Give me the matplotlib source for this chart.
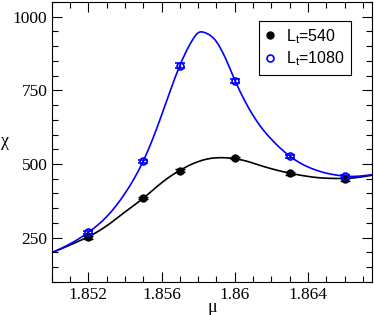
import numpy as np
import matplotlib.pyplot as plt
from matplotlib.path import Path
from matplotlib.patches import PathPatch
from matplotlib.lines import Line2D
from matplotlib.ticker import MultipleLocator

# measured points
mu_pts = [1.852, 1.855, 1.857, 1.860, 1.863, 1.866]
chi_540 = [251, 384, 478, 520, 468, 449]
err_540 = [4, 4, 4, 4, 4, 5]
chi_1080 = [269, 509, 834, 782, 526, 458]
err_1080 = [5, 6, 7, 7, 6, 6]

# fitted curves
mu_curve = [1.8500, 1.8505, 1.8510, 1.8515, 1.8520, 1.8525, 1.8530, 1.8535,
            1.8540, 1.8545, 1.8550, 1.8555, 1.8560, 1.8565, 1.8570, 1.8575,
            1.8580, 1.8585, 1.8590, 1.8595, 1.8600, 1.8605, 1.8610, 1.8615,
            1.8620, 1.8625, 1.8630, 1.8635, 1.8640, 1.8645, 1.8650, 1.8655,
            1.8660, 1.8665, 1.8670, 1.8675]
curve_540 = [199, 212, 225, 239, 253, 270, 290, 313,
             337, 360, 384, 410, 436, 459, 478, 495,
             508, 517, 521, 521, 518, 512, 503, 493,
             484, 476, 469, 463, 458, 454, 452, 451,
             451, 453, 457, 462]
curve_1080 = [199, 213, 229, 247, 268, 292, 321, 357,
              400, 450, 510, 582, 665, 752, 834, 900,
              945, 942, 915, 858, 785, 720, 665, 620,
              584, 553, 527, 506, 490, 478, 469, 463,
              459, 458, 460, 464]
x_ticks = [1.852, 1.856, 1.86, 1.864]
x_ticklabels = ['1.852', '1.856', '1.86', '1.864']
y_ticks = [250, 500, 750, 1000]
y_ticklabels = ['250', '500', '750', '1000']


def smooth_line(ax, xs, ys, color):
    # Catmull-Rom curve through the read points
    pts = np.column_stack([xs, ys]).astype(float)
    n = len(pts)
    verts = [pts[0]]
    codes = [Path.MOVETO]
    for i in range(n - 1):
        p0 = pts[max(i - 1, 0)]
        p1 = pts[i]
        p2 = pts[i + 1]
        p3 = pts[min(i + 2, n - 1)]
        verts += [p1 + (p2 - p0) / 6, p2 - (p3 - p1) / 6, p2]
        codes += [Path.CURVE4] * 3
    ax.add_patch(PathPatch(Path(verts, codes), fill=False, edgecolor=color,
                           lw=1.2, zorder=2))


plt.rcParams['font.family'] = 'serif'
plt.rcParams['font.serif'] = ['Liberation Serif', 'Times New Roman', 'DejaVu Serif']

fig = plt.figure(figsize=(3.74, 3.15), dpi=100)
ax = fig.add_axes([0.138, 0.105, 0.857, 0.889])

smooth_line(ax, mu_curve, curve_540, 'black')
smooth_line(ax, mu_curve, curve_1080, '#0000ff')

ax.errorbar(mu_pts, chi_540, yerr=err_540, fmt='o', color='black', ms=5,
            capsize=3.5, elinewidth=1, capthick=1, zorder=3)
ax.errorbar(mu_pts, chi_1080, yerr=err_1080, fmt='o', color='#0000ff', mfc='none',
            ms=5, mew=1.2, capsize=3.5, elinewidth=1, capthick=1, zorder=3)

ax.set_xlim(1.850, 1.8675)
ax.set_ylim(100, 1050)
ax.xaxis.set_minor_locator(MultipleLocator(0.001))
ax.yaxis.set_minor_locator(MultipleLocator(50))
ax.set_xticks(x_ticks)
ax.set_xticklabels(x_ticklabels, family='Liberation Serif', fontsize=12.5)
ax.set_yticks(y_ticks)
ax.set_yticklabels(y_ticklabels, family='Liberation Serif', fontsize=12.5)
ax.tick_params(which='both', direction='in', top=True, right=True)
ax.tick_params(which='major', length=7, width=0.8)
ax.tick_params(which='minor', length=4, width=0.8)
ax.tick_params(axis='x', pad=4)
ax.tick_params(axis='y', pad=3)

ax.set_xlabel('μ', fontsize=13, labelpad=-3, family='Liberation Serif')
ax.set_ylabel('χ', fontsize=13, rotation=0, family='Liberation Serif')
ax.yaxis.set_label_coords(-0.145, 0.47)

handles = [
    Line2D([], [], ls='none', marker='o', color='black', ms=5),
    Line2D([], [], ls='none', marker='o', color='#0000ff', mfc='none', ms=5, mew=1.2),
]
labels = ['L$_\\mathregular{t}$=540', 'L$_\\mathregular{t}$=1080']
leg = ax.legend(handles, labels, loc='upper right', bbox_to_anchor=(0.935, 0.933),
                handlelength=0.6, handletextpad=0.7, borderpad=0.4,
                labelspacing=0.25, borderaxespad=0,
                fancybox=False, framealpha=1, edgecolor='black',
                prop={'family': 'Liberation Sans', 'size': 11.5})
leg.get_frame().set_linewidth(0.8)

fig.savefig('out.png', dpi=100)
